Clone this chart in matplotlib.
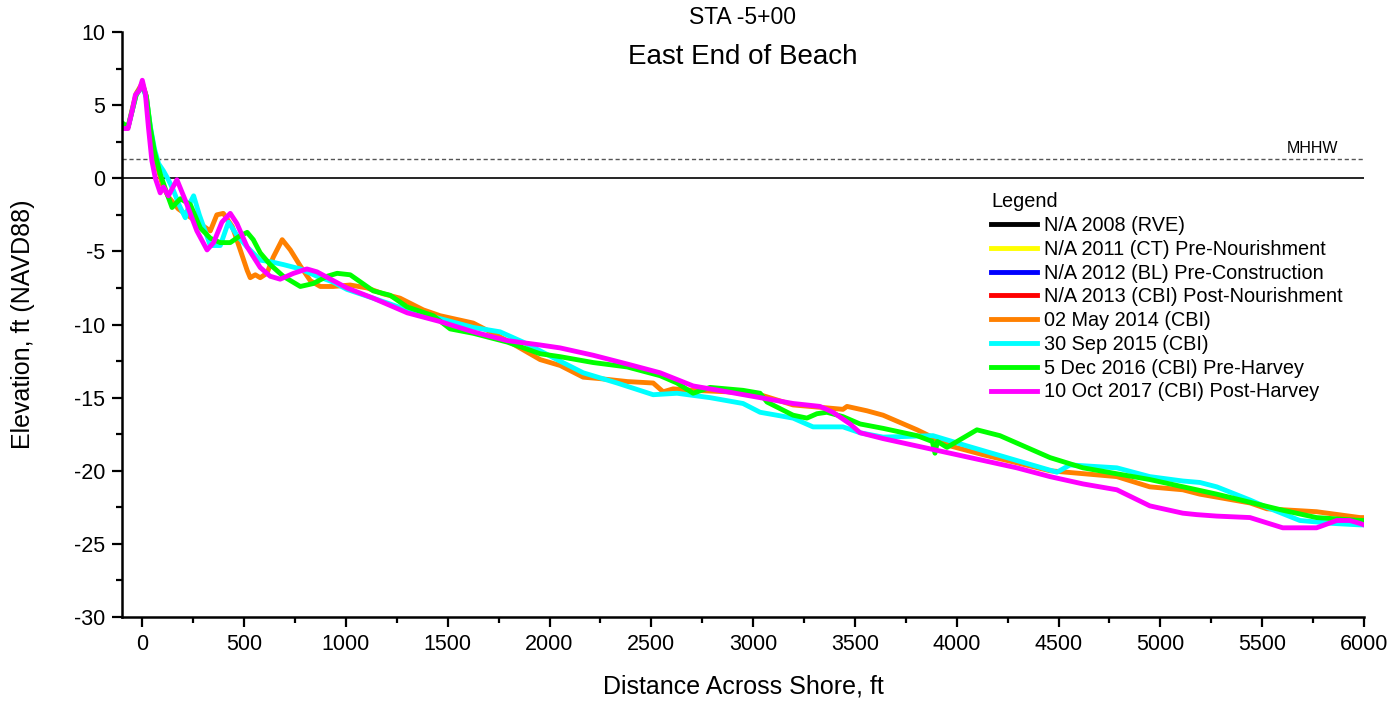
import matplotlib
matplotlib.use("Agg")
import matplotlib.pyplot as plt
from matplotlib.ticker import MultipleLocator

plt.rcParams['font.family'] = ['Liberation Sans', 'DejaVu Sans']
plt.rcParams['axes.unicode_minus'] = False

# survey profiles (distance ft, elevation ft NAVD88)
x_2014 = [-100, -70, -50, -30, 0, 20, 40, 60, 80, 100, 130, 177, 250, 334, 366, 398, 442, 481,
          515, 530, 555, 579, 612, 643, 687, 727, 776, 825, 874, 938, 1021, 1104, 1183, 1266, 1380,
          1463, 1625, 1792, 1954, 2052, 2165, 2248, 2381, 2509, 2558, 2607, 2705, 2872, 3034, 3196,
          3362, 3441, 3461, 3559, 3638, 3805, 3967, 4129, 4458, 4786, 4948, 5110, 5194, 5440, 5523,
          5767, 5980, 6000]
y_2014 = [3.7, 3.5, 4.7, 5.8, 6.5, 5.6, 3.2, 1.6, 0.5, -0.5, -1.3, -2.1, -2.8, -3.6, -2.5, -2.4, -3.3, -4.9,
          -6.3, -6.8, -6.6, -6.8, -6.5, -5.4, -4.2, -4.9, -6.0, -7.0, -7.4, -7.4, -7.3, -7.5, -7.9, -8.2, -9.0,
          -9.4, -9.9, -11.1, -12.4, -12.8, -13.6, -13.7, -13.9, -14.0, -14.6, -14.4, -14.5, -14.6, -14.8, -15.5,
          -15.7, -15.8, -15.6, -15.9, -16.2, -17.2, -18.3, -18.9, -20.0, -20.4, -21.1, -21.3, -21.6, -22.2, -22.6,
          -22.8, -23.2, -23.2]

x_2015 = [-100, -70, -50, -30, 0, 20, 40, 60, 80, 104, 128, 152, 180, 211, 230, 252, 280, 334, 383, 423,
          465, 515, 579, 628, 692, 776, 858, 938, 1005, 1134, 1301, 1463, 1625, 1757, 1870, 2037, 2165,
          2332, 2509, 2626, 2788, 2950, 3034, 3196, 3294, 3441, 3525, 3638, 3883, 4050, 4295, 4492, 4556,
          4786, 4948, 5110, 5194, 5277, 5440, 5523, 5685, 5847, 5980, 6000]
y_2015 = [3.6, 3.5, 4.6, 5.7, 6.3, 5.5, 3.5, 2.0, 1.0, 0.5, -0.1, -0.8, -1.8, -2.7, -1.8, -1.2, -2.5, -4.6, -4.6, -3.0,
          -3.9, -4.7, -5.6, -5.7, -5.9, -6.2, -6.7, -7.1, -7.6, -8.2, -9.0, -9.6, -10.2, -10.5, -11.2, -12.4, -13.3,
          -14.0, -14.8, -14.7, -15.0, -15.4, -16.0, -16.4, -17.0, -17.0, -17.4, -17.7, -17.6, -18.3, -19.3, -20.1, -19.6,
          -19.8, -20.4, -20.7, -20.8, -21.1, -22.0, -22.5, -23.4, -23.6, -23.7, -23.7]

x_2016 = [-100, -70, -50, -30, 0, 20, 40, 60, 88, 120, 146, 187, 236, 285, 334, 383, 432, 473, 515, 545,
          579, 628, 692, 776, 839, 908, 957, 1021, 1134, 1217, 1301, 1429, 1512, 1625, 1792, 1954, 2052,
          2214, 2381, 2543, 2626, 2705, 2788, 2950, 3034, 3068, 3196, 3264, 3313, 3362, 3441, 3525, 3638,
          3805, 3880, 3893, 3905, 3952, 4099, 4212, 4458, 4620, 4948, 5277, 5601, 5767, 5980, 6000]
y_2016 = [3.8, 3.5, 4.6, 5.7, 6.4, 5.6, 3.4, 1.8, 0.3, -1.0, -2.0, -1.4, -1.8, -3.4, -4.1, -4.4, -4.4, -4.0, -3.7, -4.2,
          -5.1, -5.9, -6.7, -7.4, -7.2, -6.7, -6.5, -6.6, -7.7, -8.0, -8.8, -9.4, -10.3, -10.6, -11.2, -12.0, -12.2,
          -12.6, -12.9, -13.5, -14.0, -14.7, -14.3, -14.5, -14.7, -15.3, -16.2, -16.4, -16.1, -16.0, -16.3, -16.8, -17.1,
          -17.6, -18.0, -18.8, -18.0, -18.4, -17.2, -17.6, -19.1, -19.8, -20.6, -21.6, -22.7, -23.2, -23.4, -23.4]

x_2017 = [-100, -70, -50, -34, -15, 0, 15, 30, 47, 64, 88, 104, 128, 170, 211, 268, 318, 350, 391, 432,
          465, 515, 579, 628, 677, 743, 808, 858, 938, 1005, 1134, 1301, 1463, 1625, 1792, 1954, 2052,
          2214, 2381, 2543, 2705, 2872, 3034, 3196, 3328, 3392, 3476, 3525, 3638, 3967, 4295, 4458, 4620,
          4786, 4948, 5110, 5179, 5277, 5440, 5601, 5685, 5767, 5866, 5930, 5980, 6000]
y_2017 = [3.4, 3.4, 4.6, 5.7, 6.0, 6.7, 5.8, 3.5, 1.2, 0.0, -1.0, -0.6, -1.2, -0.1, -1.5, -3.6, -4.9, -4.4, -3.0, -2.4,
          -3.1, -4.7, -6.1, -6.7, -6.9, -6.5, -6.2, -6.4, -7.0, -7.5, -8.2, -9.2, -9.8, -10.5, -11.1, -11.4, -11.6,
          -12.1, -12.7, -13.3, -14.2, -14.6, -15.0, -15.4, -15.6, -16.0, -16.8, -17.4, -17.8, -18.8, -19.8, -20.4, -20.9,
          -21.3, -22.4, -22.9, -23.0, -23.1, -23.2, -23.9, -23.9, -23.9, -23.4, -23.4, -23.6, -23.7]

mhhw = 1.3

empty_labels = ["N/A 2008 (RVE)", "N/A 2011 (CT) Pre-Nourishment",
                "N/A 2012 (BL) Pre-Construction", "N/A 2013 (CBI) Post-Nourishment"]
empty_colors = ["black", "#FFFF00", "#0000FF", "#FF0000"]

fig = plt.figure(figsize=(14, 7.08), dpi=100)
ax = fig.add_axes([0.0871, 0.1285, 0.8872, 0.8263])

ax.axhline(0, color="black", lw=1.2, zorder=1)
ax.axhline(mhhw, color="#555555", lw=1.0, ls=(0, (3, 2)), zorder=1)
ax.text(5871, mhhw + 0.45, "MHHW", ha="right", va="baseline", fontsize=11.5)

for lab, c in zip(empty_labels, empty_colors):
    ax.plot([], [], color=c, lw=3.5, label=lab)

ax.plot(x_2014, y_2014, color="#FF8000", lw=3.5, label="02 May 2014 (CBI)")
ax.plot(x_2015, y_2015, color="#00FFFF", lw=3.5, label="30 Sep 2015 (CBI)")
ax.plot(x_2016, y_2016, color="#00FF00", lw=3.5, label="5 Dec 2016 (CBI) Pre-Harvey")
ax.plot(x_2017, y_2017, color="#FF00FF", lw=3.5, label="10 Oct 2017 (CBI) Post-Harvey")

ax.set_xlim(-100, 6000)
ax.set_ylim(-30, 10)
ax.xaxis.set_major_locator(MultipleLocator(500))
ax.xaxis.set_minor_locator(MultipleLocator(250))
ax.yaxis.set_major_locator(MultipleLocator(5))
ax.yaxis.set_minor_locator(MultipleLocator(2.5))
ax.tick_params(which="major", direction="out", length=7, width=1.6, labelsize=15.5, pad=5)
ax.tick_params(which="minor", direction="out", length=4, width=1.6)
for s in ["top", "right"]:
    ax.spines[s].set_visible(False)
for s in ["left", "bottom"]:
    ax.spines[s].set_linewidth(1.8)

ax.set_xlabel("Distance Across Shore, ft", fontsize=18, labelpad=14)
ax.set_ylabel("Elevation, ft (NAVD88)", fontsize=18, labelpad=28)

fig.text(0.5306, 0.9746, "STA -5+00", ha="center", va="center", fontsize=16.5)
fig.text(0.5306, 0.9195, "East End of Beach", ha="center", va="center", fontsize=20)

leg = ax.legend(loc="upper left", bbox_to_anchor=(0.698, 0.748), bbox_transform=fig.transFigure,
                frameon=False, title="Legend", alignment="left", fontsize=14.3,
                title_fontsize=14.3, handlelength=2.3, handletextpad=0.35, labelspacing=0.24,
                borderpad=0.2)

fig.savefig("out.png", dpi=100)
